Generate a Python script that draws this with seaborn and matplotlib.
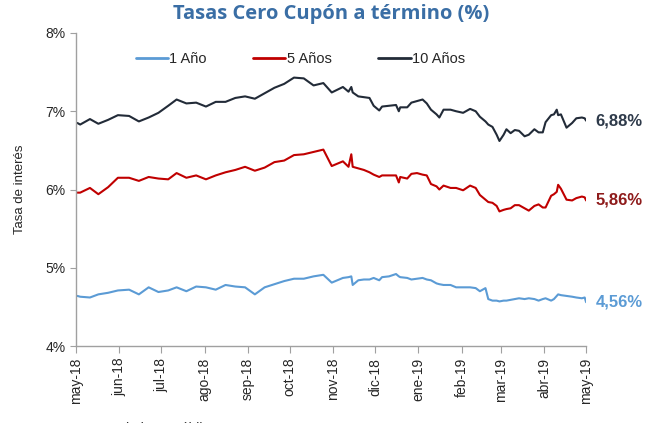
import seaborn as sns
import matplotlib.pyplot as plt
import pandas as pd

# Data
dates = [
    "2018-05-02", "2018-05-04", "2018-05-11", "2018-05-17", "2018-05-24", "2018-05-31",
    "2018-06-08", "2018-06-15", "2018-06-22", "2018-06-29", "2018-07-06", "2018-07-12",
    "2018-07-19", "2018-07-26", "2018-08-02", "2018-08-09", "2018-08-16", "2018-08-23",
    "2018-08-30", "2018-09-06", "2018-09-13", "2018-09-20", "2018-09-27", "2018-10-04",
    "2018-10-11", "2018-10-18", "2018-10-25", "2018-10-31", "2018-11-08", "2018-11-12",
    "2018-11-14", "2018-11-15", "2018-11-19", "2018-11-23", "2018-11-27", "2018-11-30",
    "2018-12-04", "2018-12-06", "2018-12-11", "2018-12-16", "2018-12-18", "2018-12-19",
    "2018-12-24", "2018-12-27", "2018-12-31", "2019-01-04", "2019-01-07", "2019-01-10",
    "2019-01-14", "2019-01-16", "2019-01-19", "2019-01-24", "2019-01-28", "2019-02-02",
    "2019-02-07", "2019-02-11", "2019-02-14", "2019-02-18", "2019-02-20", "2019-02-23",
    "2019-02-26", "2019-02-28", "2019-03-03", "2019-03-05", "2019-03-08", "2019-03-11",
    "2019-03-14", "2019-03-18", "2019-03-21", "2019-03-25", "2019-03-28", "2019-03-31",
    "2019-04-02", "2019-04-06", "2019-04-08", "2019-04-10", "2019-04-11", "2019-04-13",
    "2019-04-17", "2019-04-21", "2019-04-24", "2019-04-28", "2019-04-30", "2019-05-01",
]

tasa_10 = [
    6.85, 6.83, 6.90, 6.84, 6.89, 6.95, 6.94, 6.87, 6.92, 6.98, 7.07, 7.15,
    7.10, 7.11, 7.06, 7.12, 7.12, 7.17, 7.19, 7.16, 7.23, 7.30, 7.35, 7.43,
    7.42, 7.33, 7.36, 7.24, 7.31, 7.25, 7.31, 7.24, 7.19, 7.18, 7.17, 7.07,
    7.01, 7.06, 7.07, 7.08, 7.00, 7.05, 7.05, 7.11, 7.13, 7.15, 7.10, 7.02,
    6.96, 6.92, 7.02, 7.02, 7.00, 6.98, 7.03, 7.00, 6.93, 6.87, 6.83, 6.80,
    6.70, 6.62, 6.70, 6.77, 6.72, 6.76, 6.75, 6.68, 6.70, 6.77, 6.73, 6.73,
    6.86, 6.95, 6.96, 7.02, 6.95, 6.96, 6.79, 6.85, 6.91, 6.92, 6.91, 6.88,
]

tasa_5 = [
    5.96, 5.96, 6.02, 5.94, 6.03, 6.15, 6.15, 6.11, 6.16, 6.14, 6.13, 6.21,
    6.15, 6.18, 6.13, 6.18, 6.22, 6.25, 6.29, 6.24, 6.28, 6.35, 6.37, 6.44,
    6.45, 6.48, 6.51, 6.30, 6.36, 6.29, 6.45, 6.29, 6.27, 6.25, 6.22, 6.19,
    6.16, 6.18, 6.18, 6.18, 6.09, 6.16, 6.14, 6.20, 6.21, 6.19, 6.18, 6.07,
    6.04, 6.00, 6.05, 6.02, 6.02, 5.99, 6.05, 6.02, 5.93, 5.87, 5.84, 5.83,
    5.79, 5.72, 5.74, 5.75, 5.76, 5.80, 5.80, 5.76, 5.73, 5.79, 5.81, 5.77,
    5.77, 5.92, 5.94, 5.97, 6.06, 6.01, 5.87, 5.86, 5.89, 5.91, 5.90, 5.86,
]

tasa_1 = [
    4.64, 4.63, 4.62, 4.66, 4.68, 4.71, 4.72, 4.66, 4.75, 4.69, 4.71, 4.75,
    4.70, 4.76, 4.75, 4.72, 4.78, 4.76, 4.75, 4.66, 4.75, 4.79, 4.83, 4.86,
    4.86, 4.89, 4.91, 4.81, 4.87, 4.88, 4.89, 4.78, 4.84, 4.85, 4.85, 4.87,
    4.84, 4.88, 4.89, 4.92, 4.89, 4.88, 4.87, 4.85, 4.86, 4.87, 4.85, 4.84,
    4.80, 4.79, 4.78, 4.78, 4.75, 4.75, 4.75, 4.74, 4.70, 4.74, 4.60, 4.58,
    4.58, 4.57, 4.58, 4.58, 4.59, 4.60, 4.61, 4.60, 4.61, 4.60, 4.58, 4.60,
    4.61, 4.58, 4.60, 4.64, 4.66, 4.65, 4.64, 4.63, 4.62, 4.61, 4.62, 4.56,
]

series_names = ["1 Año", "5 Años", "10 Años"]
colors = {"1 Año": "#5B9BD5", "5 Años": "#C00000", "10 Años": "#222B38"}
label_colors = {"1 Año": "#5B9BD5", "5 Años": "#8E1B1B", "10 Años": "#2E3A4A"}

df = pd.DataFrame({"Fecha": pd.to_datetime(dates),
                   "1 Año": tasa_1, "5 Años": tasa_5, "10 Años": tasa_10})
long = df.melt(id_vars="Fecha", var_name="Plazo", value_name="Tasa")

sns.set_style("white")
plt.rcParams["font.family"] = ["Liberation Sans", "DejaVu Sans"]

fig = plt.figure(figsize=(6.63, 4.23), dpi=100)
ax = fig.add_axes([0.1146, 0.182, 0.7694, 0.74])

sns.lineplot(data=long, x="Fecha", y="Tasa", hue="Plazo", hue_order=series_names,
             palette=colors, linewidth=1.5, ax=ax)

ax.set_xlim(pd.Timestamp("2018-05-01"), pd.Timestamp("2019-05-01"))
ax.set_ylim(4, 8)
ax.set_yticks([4, 5, 6, 7, 8])
ax.set_yticklabels(["4%", "5%", "6%", "7%", "8%"])

months = ["may", "jun", "jul", "ago", "sep", "oct", "nov", "dic",
          "ene", "feb", "mar", "abr", "may"]
ticks = pd.date_range("2018-05-01", "2019-05-01", freq="MS")
ax.set_xticks(ticks)
ax.set_xticklabels([f"{m}-{t.strftime('%y')}" for m, t in zip(months, ticks)],
                   rotation=90, fontsize=10)
ax.tick_params(axis="y", labelsize=10, length=4, color="#A0A0A0", direction="out", left=True)
ax.tick_params(axis="x", length=5, color="#A0A0A0", direction="out", bottom=True)

for s in ["top", "right"]:
    ax.spines[s].set_visible(False)
for s in ["left", "bottom"]:
    ax.spines[s].set_color("#A0A0A0")
    ax.spines[s].set_linewidth(1)

ax.set_xlabel("")
ax.set_ylabel("Tasa de interés", fontsize=9.5, labelpad=14)

# end labels
for name in series_names:
    last = df[name].iloc[-1]
    ax.annotate(f"{last:.2f}%".replace(".", ","), xy=(df["Fecha"].iloc[-1], last),
                xytext=(7, 0), textcoords="offset points", va="center", ha="left",
                fontsize=12, fontweight="bold", color=label_colors[name],
                annotation_clip=False)

leg = ax.legend(loc="upper center", bbox_to_anchor=(0.44, 0.98), ncol=3, frameon=False,
                fontsize=10.5, handlelength=2.2, handletextpad=0.1, columnspacing=3.2)
for line in leg.get_lines():
    line.set_linewidth(2)

fig.text(0.5, 0.99, "Tasas Cero Cupón a término (%)", ha="center", va="top",
         fontsize=14.5, fontweight="bold", color="#3A6EA5", family=["Open Sans", "DejaVu Sans"])
fig.text(0.04, 0.003, "Fuente: Banco de la República", ha="left", va="top",
         fontsize=10, color="#333333")

fig.savefig("out.png", dpi=100)
